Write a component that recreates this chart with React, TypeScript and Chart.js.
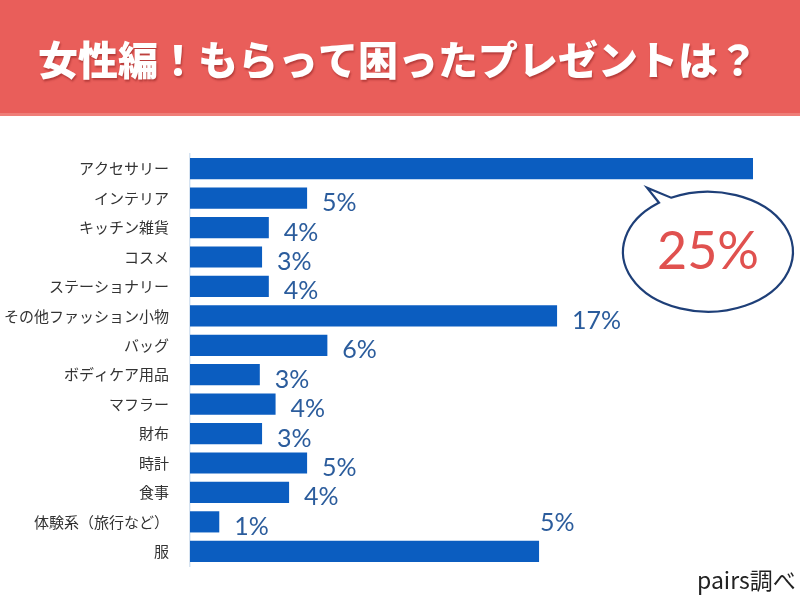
import React, { useEffect, useRef } from "react";
import { Chart, registerables } from "chart.js";

Chart.register(...registerables);

const TITLE = "女性編！もらって困ったプレゼントは？";
const SOURCE = "pairs調べ";

const categories = [
  "アクセサリー",
  "インテリア",
  "キッチン雑貨",
  "コスメ",
  "ステーショナリー",
  "その他ファッション小物",
  "バッグ",
  "ボディケア用品",
  "マフラー",
  "財布",
  "時計",
  "食事",
  "体験系（旅行など）",
  "服",
];

// bar lengths as drawn in the picture (percent)
const values = [25, 5.2, 3.5, 3.2, 3.5, 16.3, 6.1, 3.1, 3.8, 3.2, 5.2, 4.4, 1.3, 15.5];

// printed value labels
const valueLabels = ["25%", "5%", "4%", "3%", "4%", "17%", "6%", "3%", "4%", "3%", "5%", "4%", "1%", "5%"];

const BAR_COLOR = "#0b5dc0";
const LABEL_COLOR = "#2b5c9c";
const HEADER_COLOR = "#e95e5a";

const decorPlugin = {
  id: "decor",
  beforeDraw(chart: any) {
    const { ctx, width, height } = chart;
    ctx.save();
    ctx.fillStyle = "#ffffff";
    ctx.fillRect(0, 0, width, height);
    ctx.fillStyle = HEADER_COLOR;
    ctx.fillRect(0, 0, width, 116);
    ctx.fillStyle = "#ef7e78";
    ctx.fillRect(0, 113, width, 3);
    ctx.font = '900 40px "Noto Sans CJK JP"';
    ctx.textAlign = "center";
    ctx.textBaseline = "middle";
    ctx.shadowColor = "rgba(120,20,20,0.45)";
    ctx.shadowOffsetX = 1;
    ctx.shadowOffsetY = 2;
    ctx.shadowBlur = 2;
    ctx.fillStyle = "#ffffff";
    ctx.fillText(TITLE, width / 2 - 2, 60);
    ctx.restore();
  },
  afterDatasetsDraw(chart: any) {
    const { ctx } = chart;
    const meta = chart.getDatasetMeta(0);
    ctx.save();
    ctx.font = '25px "Lato"';
    ctx.fillStyle = LABEL_COLOR;
    ctx.textAlign = "left";
    meta.data.forEach((bar: any, i: number) => {
      if (i === 0) return;
      const last = i === meta.data.length - 1;
      if (last) {
        ctx.textBaseline = "bottom";
        ctx.fillText(valueLabels[i], bar.x + 1, bar.y - 16);
      } else {
        ctx.textBaseline = "middle";
        ctx.fillText(valueLabels[i], bar.x + 15, bar.y + 5);
      }
    });

    // speech bubble for the first bar
    const first = meta.data[0];
    const cx = first.x - 45;
    const cy = first.y + 83;
    const rx = 85;
    const ry = 60;
    const tipX = first.x - 106;
    const tipY = first.y + 19;
    ctx.beginPath();
    const a1 = (-Math.PI * 2) / 3 - 0.12;
    const a2 = -Math.PI / 2 - 0.45;
    ctx.ellipse(cx, cy, rx, ry, 0, a2, a1 + Math.PI * 2, false);
    ctx.lineTo(cx + rx * Math.cos(a1) + 2, cy + ry * Math.sin(a1) - 1);
    ctx.lineTo(tipX, tipY);
    ctx.closePath();
    ctx.fillStyle = "#ffffff";
    ctx.fill();
    ctx.lineWidth = 2.2;
    ctx.strokeStyle = "#1e3f78";
    ctx.lineJoin = "miter";
    ctx.stroke();

    ctx.font = '52px "Lato"';
    ctx.fillStyle = "#e0514f";
    ctx.textAlign = "center";
    ctx.textBaseline = "middle";
    ctx.fillText(valueLabels[0], cx, cy + 1);

    ctx.font = '23px "Noto Sans CJK JP"';
    ctx.fillStyle = "#222222";
    ctx.textAlign = "left";
    ctx.textBaseline = "middle";
    ctx.fillText(SOURCE, 697, 580);
    ctx.restore();
  },
};

export default function App() {
  const canvasRef = useRef<HTMLCanvasElement | null>(null);

  useEffect(() => {
    const canvas = canvasRef.current;
    if (!canvas) return;
    const chart = new Chart(canvas, {
      type: "bar",
      data: {
        labels: categories,
        datasets: [
          {
            data: values,
            backgroundColor: BAR_COLOR,
            borderWidth: 0,
            categoryPercentage: 1,
            barPercentage: 0.72,
          },
        ],
      },
      options: {
        indexAxis: "y",
        responsive: false,
        animation: false,
        layout: { padding: { top: 154, bottom: 34, right: 47, left: 0 } },
        plugins: {
          legend: { display: false },
          tooltip: { enabled: false },
          title: { display: false },
        },
        scales: {
          x: { display: false, min: 0, max: 25 },
          y: {
            afterFit(scale: any) {
              scale.width = 190;
            },
            grid: { display: false },
            border: { display: true, color: "#d6e3f1", width: 1.5 },
            ticks: {
              color: "#333333",
              padding: 13,
              autoSkip: false,
              font: { family: '"Noto Sans CJK JP"', size: 15 },
            },
          },
        },
      },
      plugins: [decorPlugin],
    });
    return () => chart.destroy();
  }, []);

  return (
    <div style={{ position: "fixed", left: 0, top: 0, width: 800, height: 600, background: "#fff" }}>
      <canvas ref={canvasRef} width={800} height={600} />
    </div>
  );
}
